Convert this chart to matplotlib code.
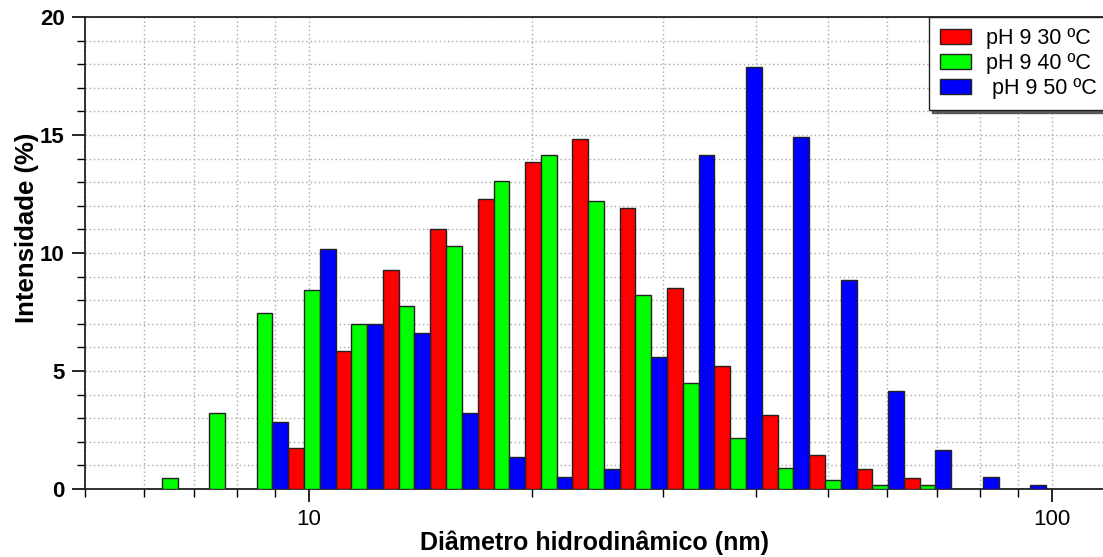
import numpy as np
import matplotlib
matplotlib.use("Agg")
import matplotlib.pyplot as plt
from matplotlib import ticker

plt.rcParams["font.family"] = ["Liberation Sans", "DejaVu Sans"]

# DLS size bins (nm) and intensity distributions (%)
sizes = [6.503, 7.531, 8.721, 10.10, 11.70, 13.54, 15.69, 18.17, 21.04, 24.36,
         28.21, 32.67, 37.84, 43.82, 50.75, 58.77, 68.06, 78.82, 91.28]
ph9_30 = [0.0, 0.0, 0.0, 1.75, 5.85, 9.3, 11.0, 12.3, 13.85, 14.85,
          11.9, 8.5, 5.2, 3.15, 1.45, 0.85, 0.45, 0.0, 0.0]
ph9_40 = [0.45, 3.2, 7.45, 8.45, 7.0, 7.75, 10.3, 13.05, 14.15, 12.2,
          8.2, 4.5, 2.15, 0.9, 0.4, 0.15, 0.15, 0.0, 0.0]
ph9_50 = [0.0, 0.0, 2.85, 10.15, 7.0, 6.6, 3.2, 1.35, 0.5, 0.85,
          5.6, 14.15, 17.9, 14.9, 8.85, 4.15, 1.65, 0.5, 0.15]
labels = ["pH 9 30 ºC", "pH 9 40 ºC", " pH 9 50 ºC"]
colors = ["#ff0000", "#00ff00", "#0000ff"]

fig = plt.figure(figsize=(11.03, 5.57), dpi=100)
ax = fig.add_axes([85 / 1103, 1 - 489 / 557, 1018 / 1103, 472 / 557])
ax.set_xscale("log")

# three bars share each log-spaced bin, side by side
c = np.array(sizes)
step = np.mean(np.diff(np.log10(c)))
for k, (vals, col, lab) in enumerate(zip([ph9_30, ph9_40, ph9_50], colors, labels)):
    left = c * 10 ** (step * (-0.5 + k / 3))
    right = c * 10 ** (step * (-0.5 + (k + 1) / 3))
    ax.bar(left, vals, width=right - left, align="edge", color=col,
           edgecolor="#222222", linewidth=1.0, label=lab, zorder=3)

ax.set_xlim(5, 117.2)
ax.set_ylim(0, 20)
ax.xaxis.set_major_formatter(ticker.FuncFormatter(lambda v, p: f"{v:g}"))
ax.xaxis.set_minor_formatter(ticker.NullFormatter())
ax.yaxis.set_major_locator(ticker.MultipleLocator(5))
ax.yaxis.set_minor_locator(ticker.MultipleLocator(1))

ax.grid(True, which="both", color="#a8a8a8", linewidth=1.0,
        linestyle=(0, (1, 2)), zorder=0)
ax.set_axisbelow(True)

ax.tick_params(which="major", direction="out", length=9.5, width=1.2, labelsize=16, pad=5)
ax.tick_params(which="minor", direction="out", length=5.5, width=1.0)
for t in ax.get_yticklabels():
    t.set_fontweight("bold")

for side in ["left", "bottom", "top"]:
    ax.spines[side].set_linewidth(1.3)
    ax.spines[side].set_color("#222222")
ax.spines["right"].set_visible(False)

ax.set_xlabel("Diâmetro hidrodinâmico (nm)", fontsize=18, fontweight="bold")
ax.set_ylabel("Intensidade (%)", fontsize=18.5, fontweight="bold")
ax.xaxis.set_label_coords(0.5, (489 - 550) / 472)
ax.xaxis.label.set(va="baseline")
ax.yaxis.set_label_coords(-0.057, 0.553)
ax.yaxis.label.set(va="center", ha="center", rotation_mode="default")

leg = fig.legend(loc="upper left", bbox_to_anchor=(929 / 1103, 1 - 17 / 557),
                 fontsize=15.5, frameon=True, fancybox=False, framealpha=1,
                 edgecolor="#222222", borderaxespad=0, borderpad=0.5,
                 handlelength=1.45, handleheight=0.68, handletextpad=0.7,
                 labelspacing=0.2, shadow={"color": "0.35", "alpha": 1})
leg.get_frame().set_linewidth(1.0)

fig.savefig("out.png", dpi=100)
